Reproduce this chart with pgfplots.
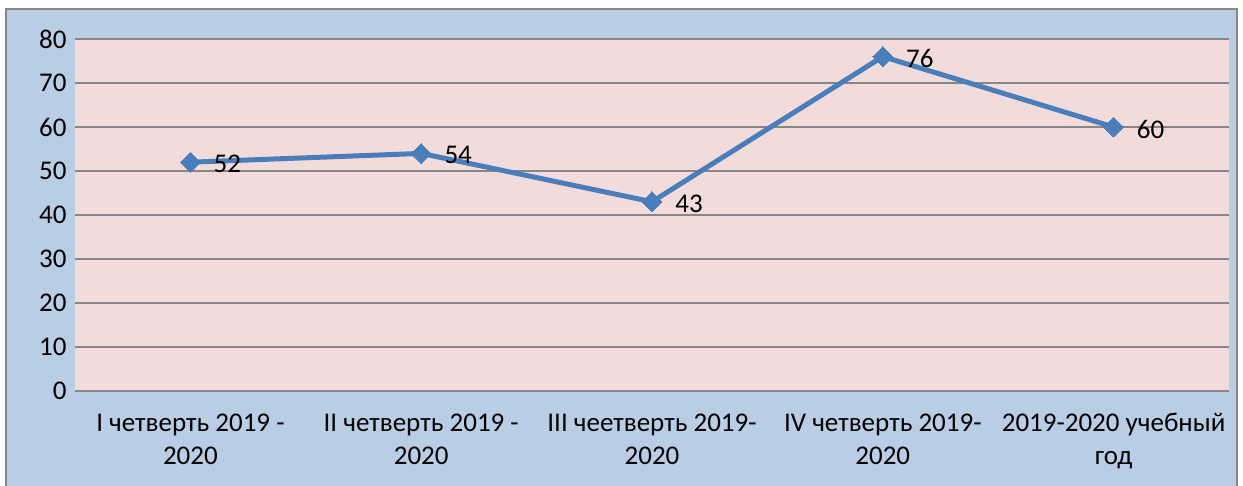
\documentclass[border=0pt]{standalone}
\usepackage{pgfplots}
\pgfplotsset{compat=1.18}
\usepackage{fontspec}
\setmainfont{Carlito}
\definecolor{bgblue}{HTML}{B9CDE5}
\definecolor{plotpink}{HTML}{F2DCDB}
\definecolor{gridgray}{HTML}{868686}
\definecolor{lineblue}{HTML}{4A7EBB}
\definecolor{bordergray}{HTML}{888888}
\begin{document}
\begin{tikzpicture}[x=1bp,y=1bp]
\useasboundingbox (0,0) rectangle (1243,486);
\begin{scope}
\clip (0,0) rectangle (1243,486);
\fill[white] (0,0) rectangle (1243,486);
\draw[line width=2bp, draw=bordergray, fill=bgblue] (6,-10) rectangle (1237,477);
\end{scope}
\begin{axis}[
  at={(75bp,95bp)}, anchor=south west,
  scale only axis, width=1154bp, height=352bp,
  xmin=-0.5, xmax=4.5, ymin=0, ymax=80,
  ytick={0,10,...,80}, xtick={0,1,2,3,4},
  xticklabels={{I четверть 2019 -\\2020},{II четверть 2019 -\\2020},{III чеетверть 2019-\\2020},{IV четверть 2019-\\2020},{2019-2020 учебный\\год}},
  axis background/.style={fill=plotpink},
  axis line style={draw=none},
  ymajorgrids, grid style={draw=gridgray, line width=1.5bp},
  major tick length=0pt,
  /pgf/number format/assume math mode=true,
  tick label style={font=\fontsize{27bp}{33bp}\selectfont, text=black},
  x tick label style={align=center, yshift=-19bp},
  y tick label style={xshift=-5bp},
  clip=false,
  nodes near coords,
  every node near coord/.append style={anchor=west, xshift=20bp, yshift=-2bp, font=\fontsize{27bp}{30bp}\selectfont, text=black},
]
\addplot[lineblue, line width=5bp, mark=square*, mark size=7bp,
  mark options={rotate=45, fill=lineblue, draw=lineblue, line width=0pt}]
  coordinates {(0,52) (1,54) (2,43) (3,76) (4,60)};
\end{axis}
\end{tikzpicture}
\end{document}
